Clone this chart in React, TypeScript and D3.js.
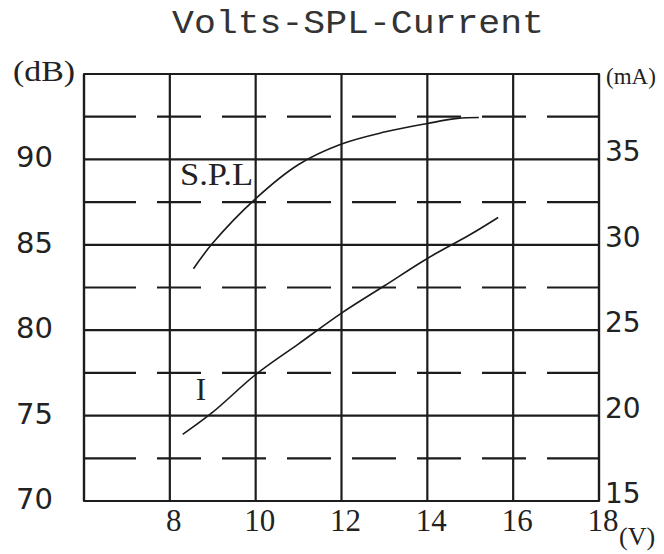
import React, { useEffect, useRef } from 'react'
import { scaleLinear, line, curveCatmullRom, select } from 'd3'

// Data
const voltTicks = [8, 10, 12, 14, 16, 18]
const dbTicks = [70, 75, 80, 85, 90]
const maTicks = [15, 20, 25, 30, 35]
const dashedDb = [72.5, 77.5, 82.5, 87.5, 92.5]

const splVolts = [8.55, 9, 10, 11, 12, 13, 14, 14.7, 15.2]
const splDb = [83.6, 85.1, 87.7, 89.7, 90.9, 91.6, 92.1, 92.4, 92.45]

const currentVolts = [8.3, 9, 10, 11, 12, 13, 14, 15, 15.65]
const currentMa = [18.9, 20.2, 22.4, 24.2, 26.0, 27.6, 29.2, 30.6, 31.6]

// Style
const W = 664
const H = 554
const plot = { left: 84, right: 599, top: 74, bottom: 501 }
const ink = '#1c1c1c'
const labelColor = '#222'
const dashPattern = '52 21 44 21 44 21 44 21 44 21 44 21 44 21 51'

const App = () => {
    const svgRef = useRef(null)

    const x = scaleLinear().domain([6, 18]).range([plot.left, plot.right])
    const yDb = scaleLinear().domain([70, 95]).range([plot.bottom, plot.top])
    const yMa = scaleLinear().domain([15, 40]).range([plot.bottom, plot.top])

    useEffect(() => {
        const svg = select(svgRef.current)

        const splLine = line()
            .x(d => x(d[0]))
            .y(d => yDb(d[1]))
            .curve(curveCatmullRom.alpha(0.5))

        const curLine = line()
            .x(d => x(d[0]))
            .y(d => yMa(d[1]))
            .curve(curveCatmullRom.alpha(0.5))

        svg.select('.spl')
            .datum(splVolts.map((v, i) => [v, splDb[i]]))
            .attr('d', d => splLine(d))

        svg.select('.current')
            .datum(currentVolts.map((v, i) => [v, currentMa[i]]))
            .attr('d', d => curLine(d))
    }, [])

    return (
        <svg ref={svgRef} width={W} height={H}
            style={{ position: 'absolute', left: 0, top: 0, background: '#fff' }}>
            <text x={358} y={33} textAnchor="middle" fontFamily="Liberation Mono" fontSize={33}
                textLength={372} lengthAdjust="spacingAndGlyphs" fill="#333">Volts-SPL-Current</text>

            {/* dashed half-step lines */}
            {dashedDb.map(v => (
                <line key={'d' + v} x1={plot.left} x2={plot.right} y1={yDb(v)} y2={yDb(v)}
                    stroke={ink} strokeWidth={2.2} strokeDasharray={dashPattern} />
            ))}
            {/* solid horizontal grid */}
            {dbTicks.concat([95]).map(v => (
                <line key={'h' + v} x1={plot.left} x2={plot.right} y1={yDb(v)} y2={yDb(v)}
                    stroke={ink} strokeWidth={2.2} />
            ))}
            {/* vertical grid */}
            {[6].concat(voltTicks).map(v => (
                <line key={'v' + v} x1={x(v)} x2={x(v)} y1={plot.top} y2={plot.bottom}
                    stroke={ink} strokeWidth={2.2} />
            ))}
            <rect x={plot.left} y={plot.top} width={plot.right - plot.left} height={plot.bottom - plot.top}
                fill="none" stroke={ink} strokeWidth={2.2} strokeLinejoin="round" />

            <path className="spl" fill="none" stroke="#1a1a1a" strokeWidth={1.6} />
            <path className="current" fill="none" stroke="#1a1a1a" strokeWidth={1.6} />

            {/* left axis */}
            {dbTicks.map(v => (
                <text key={'l' + v} x={53} y={yDb(v) + 8} textAnchor="end" fontFamily="DejaVu Sans"
                    fontSize={29} fill={labelColor}>{v}</text>
            ))}
            <text x={13} y={81} fontFamily="Liberation Serif" fontSize={30} textLength={62}
                lengthAdjust="spacingAndGlyphs" fill={labelColor}>(dB)</text>

            {/* right axis */}
            {maTicks.map(v => (
                <text key={'r' + v} x={605} y={yMa(v) + 2} fontFamily="DejaVu Sans"
                    fontSize={28} fill={labelColor}>{v}</text>
            ))}
            <text x={606} y={84} fontFamily="Liberation Serif" fontSize={23} fill={labelColor}>(mA)</text>

            {/* bottom axis */}
            {voltTicks.map(v => (
                <text key={'b' + v} x={x(v) + 4} y={531} textAnchor="middle" fontFamily="Liberation Serif"
                    fontSize={31} fill={labelColor}>{v}</text>
            ))}
            <text x={619} y={545} fontFamily="Liberation Serif" fontSize={26} fill={labelColor}>(V)</text>

            {/* curve names */}
            <text x={180} y={185} fontFamily="Liberation Serif" fontSize={31} textLength={73}
                lengthAdjust="spacingAndGlyphs" fill={labelColor}>S.P.L</text>
            <text x={201} y={400} textAnchor="middle" fontFamily="Liberation Serif" fontSize={31}
                fill={labelColor}>I</text>
        </svg>
    )
}

export default App
